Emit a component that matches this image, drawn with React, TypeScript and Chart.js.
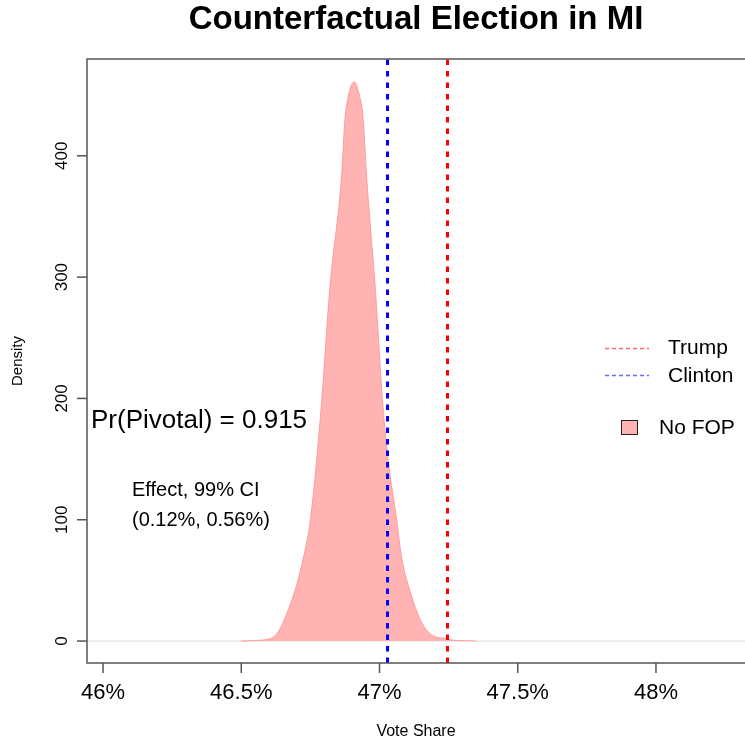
import React, { useEffect, useRef } from 'react';
import { Chart, registerables } from 'chart.js';

Chart.register(...registerables);

// ---- data ----
const voteShare = [46.50, 46.55, 46.58, 46.60, 46.62, 46.64, 46.66, 46.68, 46.70, 46.72, 46.75, 46.79, 46.82, 46.863, 46.875, 46.89, 46.908, 46.925, 46.941, 46.953, 46.985, 47.012, 47.032, 47.062, 47.08, 47.116, 47.153, 47.183, 47.21, 47.23, 47.25, 47.30, 47.35];
const density = [0, 0.4, 0.9, 1.6, 4, 10, 20, 32, 46, 64, 100, 195, 290, 384, 430, 452, 461, 452, 430, 384, 290, 195, 148, 100, 69, 37, 15, 6, 3, 2.5, 1.2, 0.3, 0];
const clintonShare = 47.029;
const trumpShare = 47.246;
const xTicks = [46, 46.5, 47, 47.5, 48];
const xTickLabels = ['46%', '46.5%', '47%', '47.5%', '48%'];
const yTicks = [0, 100, 200, 300, 400];
const yTickLabels = ['0', '100', '200', '300', '400'];
const xRange = [45.942, 48.322];
const yRange = [-18.1, 479.8];
const titleText = 'Counterfactual Election in MI';
const xTitle = 'Vote Share';
const yTitle = 'Density';
const legendLabels = ['Trump', 'Clinton', 'No FOP'];
const pivotalText = 'Pr(Pivotal) = 0.915';
const effectLines = ['Effect, 99% CI', '(0.12%, 0.56%)'];

const W = 745;
const H = 746;
const FONT = "'Liberation Sans', Arial, Helvetica, sans-serif";

export default function App() {
  const ref = useRef<HTMLCanvasElement>(null);

  useEffect(() => {
    document.body.style.margin = '0';
    const canvas = ref.current!;

    const overlay = {
      id: 'rstyle',
      afterDraw(chart: any) {
        const ctx = chart.ctx as CanvasRenderingContext2D;
        const a = chart.chartArea;
        const xs = chart.scales.x;
        const ys = chart.scales.y;
        ctx.save();

        // box (right side runs off the canvas)
        ctx.strokeStyle = '#555';
        ctx.lineWidth = 1.5;
        ctx.beginPath();
        ctx.moveTo(W + 2, a.top);
        ctx.lineTo(a.left, a.top);
        ctx.lineTo(a.left, a.bottom);
        ctx.lineTo(W + 2, a.bottom);
        ctx.stroke();

        // x ticks
        ctx.fillStyle = '#000';
        ctx.font = `22px ${FONT}`;
        ctx.textAlign = 'center';
        ctx.textBaseline = 'middle';
        xTicks.forEach((v, i) => {
          const px = xs.getPixelForValue(v);
          ctx.beginPath();
          ctx.moveTo(px, a.bottom);
          ctx.lineTo(px, a.bottom + 10);
          ctx.stroke();
          ctx.fillText(xTickLabels[i], px, a.bottom + 30);
        });

        // y ticks (rotated labels)
        ctx.font = `17px ${FONT}`;
        yTicks.forEach((v, i) => {
          const py = ys.getPixelForValue(v);
          ctx.beginPath();
          ctx.moveTo(a.left, py);
          ctx.lineTo(a.left - 10, py);
          ctx.stroke();
          ctx.save();
          ctx.translate(a.left - 25, py);
          ctx.rotate(-Math.PI / 2);
          ctx.fillText(yTickLabels[i], 0, 0);
          ctx.restore();
        });

        // axis titles
        ctx.font = `16px ${FONT}`;
        ctx.fillText(xTitle, (a.left + W) / 2, 732);
        ctx.save();
        ctx.font = `15px ${FONT}`;
        ctx.translate(18, (a.top + a.bottom) / 2);
        ctx.rotate(-Math.PI / 2);
        ctx.fillText(yTitle, 0, 0);
        ctx.restore();

        // title
        ctx.font = `bold 33px ${FONT}`;
        ctx.fillText(titleText, (a.left + W) / 2, 20);

        // annotations
        ctx.textAlign = 'left';
        ctx.font = `26px ${FONT}`;
        ctx.fillText(pivotalText, 91, 421);
        ctx.font = `20px ${FONT}`;
        ctx.fillText(effectLines[0], 132, 490);
        ctx.fillText(effectLines[1], 132, 520);

        // legend
        ctx.lineWidth = 1.4;
        ctx.setLineDash([4, 3]);
        ctx.strokeStyle = '#ff6a6a';
        ctx.beginPath();
        ctx.moveTo(605, 348.5);
        ctx.lineTo(649, 348.5);
        ctx.stroke();
        ctx.strokeStyle = '#6a6aff';
        ctx.beginPath();
        ctx.moveTo(605, 375.5);
        ctx.lineTo(649, 375.5);
        ctx.stroke();
        ctx.setLineDash([]);
        ctx.font = `21px ${FONT}`;
        ctx.fillStyle = '#000';
        ctx.fillText(legendLabels[0], 668, 348);
        ctx.fillText(legendLabels[1], 668, 376);
        ctx.fillStyle = '#ffb3b3';
        ctx.fillRect(621.5, 420.5, 16, 14);
        ctx.lineWidth = 1;
        ctx.strokeStyle = '#222';
        ctx.strokeRect(621.5, 420.5, 16, 14);
        ctx.fillStyle = '#000';
        ctx.fillText(legendLabels[2], 659, 428);

        ctx.restore();
      },
    };

    const chart = new Chart(canvas, {
      type: 'line',
      data: {
        datasets: [
          {
            label: 'Clinton',
            data: [{ x: clintonShare, y: yRange[0] }, { x: clintonShare, y: yRange[1] }],
            borderColor: '#0000ff',
            borderWidth: 3,
            borderDash: [5.5, 6],
            pointRadius: 0,
            fill: false,
            order: 1,
          },
          {
            label: 'Trump',
            data: [{ x: trumpShare, y: yRange[0] }, { x: trumpShare, y: yRange[1] }],
            borderColor: '#ff0000',
            borderWidth: 3,
            borderDash: [5.5, 6],
            pointRadius: 0,
            fill: false,
            order: 1,
          },
          {
            label: 'No FOP',
            data: voteShare.map((v, i) => ({ x: v, y: density[i] })),
            borderColor: 'rgba(255,150,150,0.9)',
            borderWidth: 1,
            backgroundColor: '#ffb3b3',
            fill: 'origin',
            pointRadius: 0,
            cubicInterpolationMode: 'monotone',
            order: 2,
          },
          {
            label: 'zero',
            data: [{ x: xRange[0], y: 0 }, { x: xRange[1], y: 0 }],
            borderColor: '#dcdcdc',
            borderWidth: 1,
            pointRadius: 0,
            fill: false,
            order: 3,
          },
        ],
      },
      options: {
        animation: false,
        responsive: false,
        events: [],
        layout: { padding: { left: 87, top: 59, right: 0, bottom: H - 663 } },
        plugins: { legend: { display: false }, title: { display: false }, tooltip: { enabled: false } },
        scales: {
          x: { type: 'linear', min: xRange[0], max: xRange[1], display: false },
          y: { type: 'linear', min: yRange[0], max: yRange[1], display: false },
        },
      },
      plugins: [overlay],
    } as any);

    return () => chart.destroy();
  }, []);

  return (
    <div style={{ position: 'fixed', left: 0, top: 0, width: W, height: H, background: '#fff' }}>
      <canvas ref={ref} width={W} height={H} style={{ display: 'block', width: W, height: H }} />
    </div>
  );
}
